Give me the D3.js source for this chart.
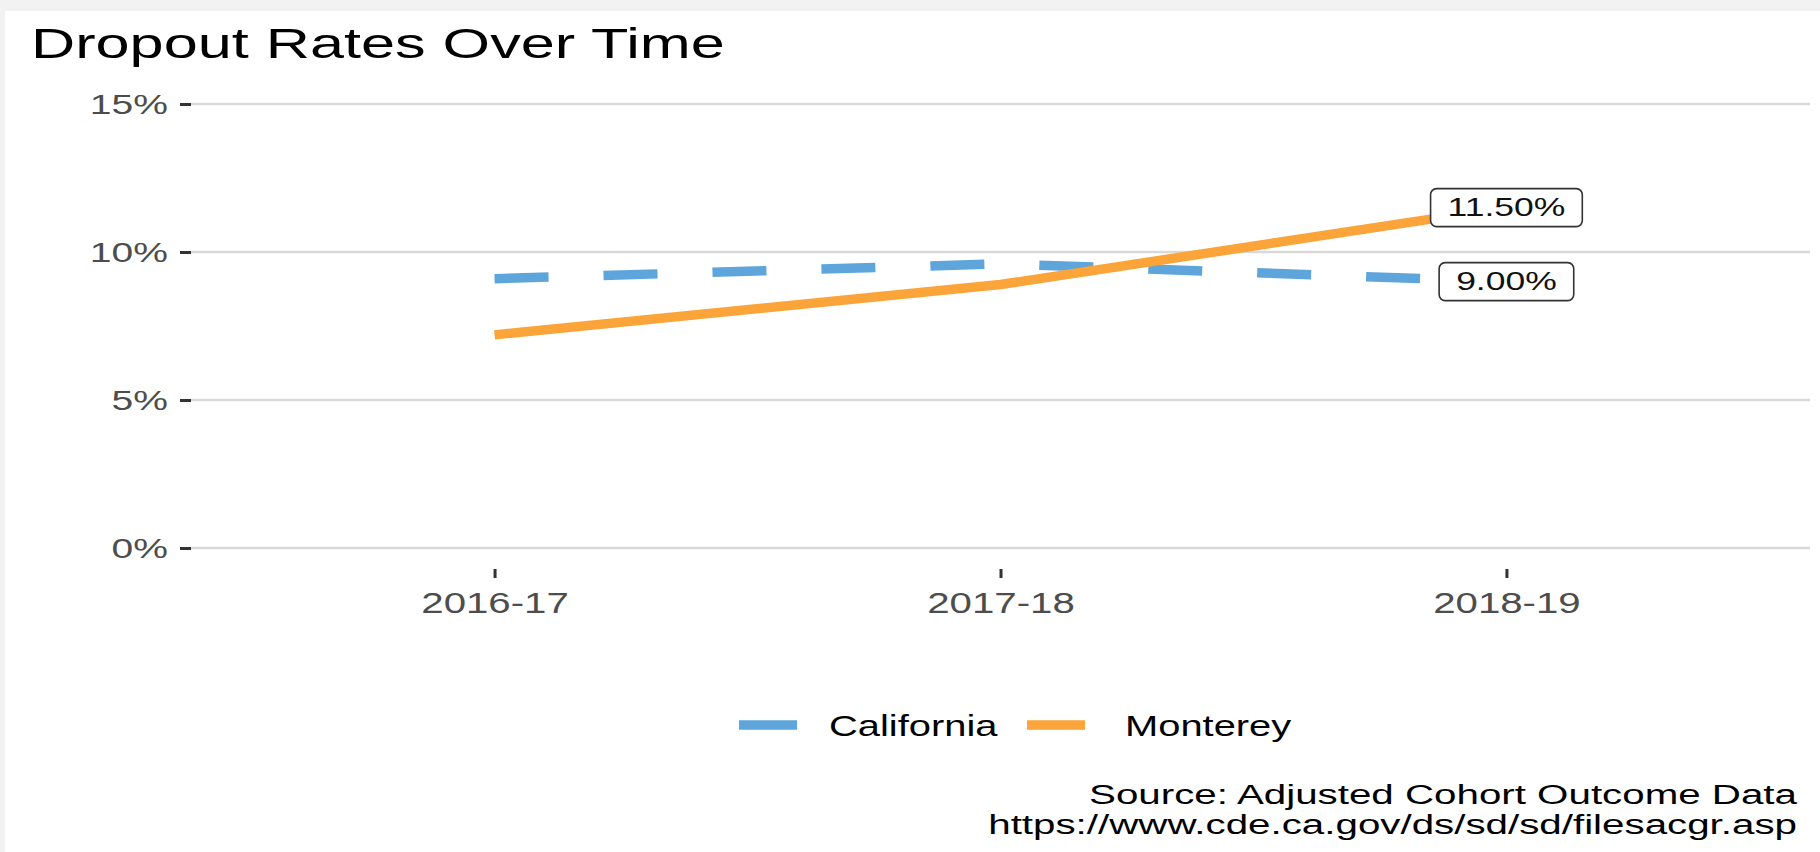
<!DOCTYPE html>
<html><head><meta charset="utf-8">
<script src="https://cdn.jsdelivr.net/npm/d3@7"></script>
<style>
html,body{margin:0;padding:0;background:#f2f2f2;}
svg{display:block;}
text{font-family:"Liberation Sans",Arial,Helvetica,sans-serif;}
</style></head>
<body>
<script>
// ---- data ----
const years = ["2016-17", "2017-18", "2018-19"];
const californiaRates = [9.1, 9.6, 9.0];
const montereyRates = [7.2, 8.9, 11.5];
const seriesNames = ["California", "Monterey"];
const yTicks = [0, 5, 10, 15];
const titleText = "Dropout Rates Over Time";
const captionLines = ["Source: Adjusted Cohort Outcome Data", "https://www.cde.ca.gov/ds/sd/sd/filesacgr.asp"];

// ---- layout / style ----
const W = 1820, H = 852;
const SX = 1.42; // horizontal text stretch of the original image
const colors = {California: "#5DA5DA", Monterey: "#FAA43A"};
const dashes = {California: "54,55", Monterey: null};
const panel = {left: 191, right: 1810, top: 104, bottom: 548};

const svg = d3.select("body").append("svg").attr("width", W).attr("height", H);
svg.append("rect").attr("x", 5).attr("y", 11).attr("width", W - 5).attr("height", H - 11).attr("fill", "#ffffff");

const x = d3.scalePoint().domain(years).range([panel.left, panel.right]).padding(0.6);
const y = d3.scaleLinear().domain([0, 15]).range([panel.bottom, panel.top]);

function stretchedText(g, tx, ty, str, size, anchor, fill, sx) {
  return g.append("text")
    .attr("transform", `translate(${tx},${ty}) scale(${sx || SX},1)`)
    .attr("text-anchor", anchor)
    .attr("font-size", size)
    .attr("fill", fill)
    .text(str);
}

// gridlines
svg.append("g").selectAll("line").data(yTicks).join("line")
  .attr("x1", panel.left).attr("x2", panel.right)
  .attr("y1", d => y(d)).attr("y2", d => y(d))
  .attr("stroke", "#d9d9d9").attr("stroke-width", 2.4);

// y axis
const yAxis = svg.append("g").attr("transform", `translate(${panel.left},0)`)
  .call(d3.axisLeft(y).tickValues(yTicks).tickSize(11).tickFormat(d => d + "%"));
yAxis.select(".domain").remove();
yAxis.selectAll(".tick line").attr("stroke", "#333333").attr("stroke-width", 3);
yAxis.selectAll(".tick text").each(function(d) {
  const t = d3.select(this);
  t.attr("x", null).attr("dy", null)
   .attr("transform", `translate(-23,9.8) scale(${SX},1)`)
   .attr("font-size", 27.5).attr("fill", "#4d4d4d")
   .attr("font-family", '"Liberation Sans",Arial,Helvetica,sans-serif')
   .attr("text-anchor", "end");
});

// x axis
const xAxis = svg.append("g").attr("transform", `translate(0,${panel.bottom + 21})`)
  .call(d3.axisBottom(x).tickSize(9).tickSizeOuter(0));
xAxis.select(".domain").remove();
xAxis.selectAll(".tick line").attr("stroke", "#333333").attr("stroke-width", 3);
xAxis.selectAll(".tick text").each(function(d) {
  d3.select(this).attr("y", null).attr("dy", null)
   .attr("transform", `translate(0,44) scale(1.34,1)`)
   .attr("font-size", 30).attr("fill", "#4d4d4d")
   .attr("font-family", '"Liberation Sans",Arial,Helvetica,sans-serif')
   .attr("text-anchor", "middle");
});

// lines
const series = [
  {name: "California", values: californiaRates},
  {name: "Monterey", values: montereyRates}
];
const line = d3.line().x((d, i) => x(years[i])).y(d => y(d));
svg.append("g").selectAll("path").data(series).join("path")
  .attr("d", s => line(s.values))
  .attr("fill", "none")
  .attr("stroke", s => colors[s.name])
  .attr("stroke-width", 9.5)
  .attr("stroke-linecap", "butt")
  .attr("stroke-linejoin", "round")
  .attr("stroke-dasharray", s => dashes[s.name]);

// end labels
const labG = svg.append("g");
series.forEach(s => {
  const v = s.values[s.values.length - 1];
  const cx = x(years[years.length - 1]), cy = y(v);
  const g = labG.append("g");
  const rect = g.append("rect");
  const t = stretchedText(g, cx, cy + 8.7, v.toFixed(2) + "%", 25, "middle", "#111111");
  const w = t.node().getComputedTextLength() * SX + 34;
  const h = 38;
  rect.attr("x", cx - w / 2).attr("y", cy - h / 2).attr("width", w).attr("height", h)
    .attr("rx", 6).attr("fill", "#ffffff").attr("stroke", "#333333").attr("stroke-width", 1.6);
});

// title
stretchedText(svg, 31, 58, titleText, 43.1, "start", "#000000");

// legend
const legendItems = [
  {name: "California", kx: 739, tx: 829},
  {name: "Monterey", kx: 1027, tx: 1125}
];
const legG = svg.append("g");
legendItems.forEach(it => {
  legG.append("line").attr("x1", it.kx).attr("x2", it.kx + 58)
    .attr("y1", 725).attr("y2", 725)
    .attr("stroke", colors[it.name]).attr("stroke-width", 9.5);
  stretchedText(legG, it.tx, 736, it.name, 30, "start", "#000000", 1.33);
});

// caption
captionLines.forEach((c, i) => {
  stretchedText(svg, 1797, 804 + i * 30, c, 28.4, "end", "#000000");
});
</script>
</body></html>
